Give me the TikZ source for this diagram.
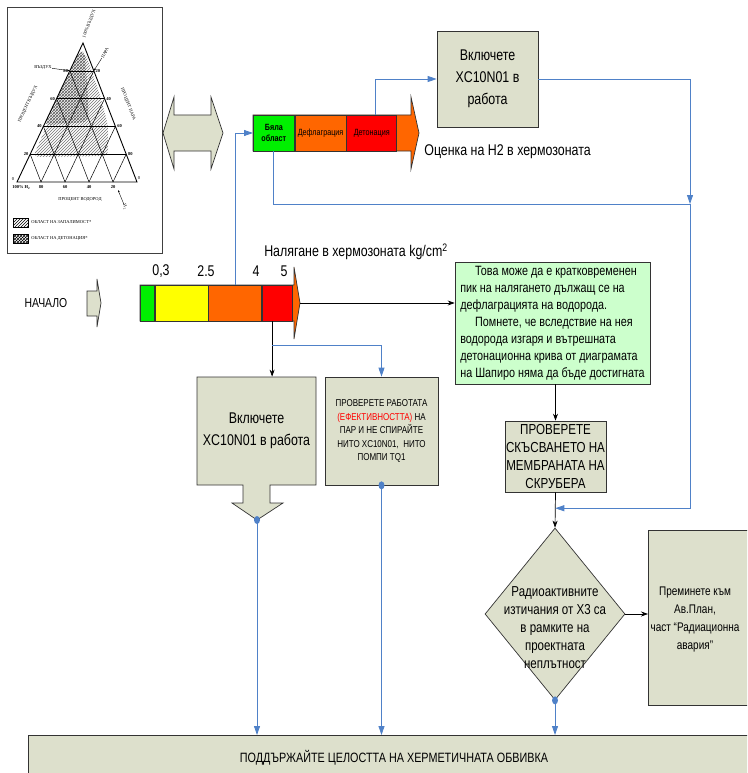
\documentclass[tikz,border=0pt]{standalone}
\usepackage{fontspec}
\setmainfont[FakeStretch=0.8]{Liberation Sans}
\newfontfamily\chartfont{Liberation Serif}
\usepackage{tikz}
\usetikzlibrary{positioning,calc,arrows.meta,shapes.geometric,patterns}

\definecolor{boxfill}{RGB}{221,224,204}
\definecolor{paleGreen}{RGB}{204,255,204}
\definecolor{barGreen}{RGB}{0,240,0}
\definecolor{barYellow}{RGB}{255,255,0}
\definecolor{barOrange}{RGB}{255,102,0}
\definecolor{barRed}{RGB}{255,0,0}
\definecolor{linkBlue}{RGB}{79,129,200}

\begin{document}
\begin{tikzpicture}[
	x=1pt, y=-1pt,
	line width=0.7pt,
	box/.style={
		draw=black!80,
		fill=boxfill,
		rectangle,
		inner sep=0pt,
		align=center,
	},
	seg/.style={
		draw=black!80,
		rectangle,
		inner sep=0pt,
		minimum height=36pt,
		anchor=west,
	},
	outline/.style={
		draw=black!80,
		fill=boxfill,
	},
	chartlbl/.style={
		inner sep=0pt,
		font=\chartfont\fontsize{4.5}{5}\selectfont,
	},
	chartarrow/.style={
		line width=0.4pt,
		-{Stealth[length=2.5pt,width=2pt]},
	},
	flow/.style={
		-{Stealth[length=7pt,width=5pt]},
	},
	bluelink/.style={
		draw=linkBlue,
		line width=0.8pt,
		-{Triangle[length=9pt,width=6pt]},
	},
	tick/.style={
		inner sep=0pt,
		font=\fontsize{15.5}{18}\selectfont,
	},
	font=\fontsize{13}{16}\selectfont,
]
\useasboundingbox (0,0) rectangle (747,773);
\clip (0,0) rectangle (747,773);

%% Shapiro diagram
\draw[black!75] (7,7) rectangle (162,253);
\coordinate (vH) at (17,182);
\coordinate (vS) at (137,182);
\coordinate (vA) at (83,43);
\path[pattern=north east lines, pattern color=black!55, rounded corners=6pt]
	(79,52) -- (85,52) -- (100,95) -- (108,125) -- (108,156) -- (33,157) -- cycle;
\path[pattern=crosshatch, pattern color=black!60, rounded corners=5pt]
	(79,52) -- (85,52) -- (88,100) -- (88,122) -- (44,125) -- cycle;
\foreach \t in {0.2,0.4,0.6,0.8}{
	\draw[line width=0.5pt] ($(vH)!\t!(vA)$) -- ($(vS)!\t!(vA)$);
	\draw[line width=0.5pt] ($(vH)!\t!(vS)$) -- ($(vA)!\t!(vS)$);
	\draw[line width=0.5pt] ($(vS)!\t!(vH)$) -- ($(vA)!\t!(vH)$);
}
\draw[line width=0.9pt] (vH) -- (vS) -- (vA) -- cycle;

\foreach \x/\v in {41/80,65/60,89/40,113/20}
	\node[chartlbl, anchor=north] (bot\v) at (\x,185) {\textbf{\v}};
\foreach \t/\v in {0.2/20,0.4/40,0.6/60,0.8/80}
	\node[chartlbl, anchor=east] (left\v) at ($(vH)!\t!(vA)+(-1.5,0)$) {\textbf{\v}};
\foreach \t/\v in {0.2/80,0.4/60,0.6/40,0.8/20}
	\node[chartlbl, anchor=west] (right\v) at ($(vS)!\t!(vA)+(1.5,0)$) {\textbf{\v}};
\node[chartlbl, anchor=north west] (fullH) at (12,185) {\textbf{100\% H\textsubscript{2}}};
\node[chartlbl, anchor=south] (zeroH) at (13,181) {0};
\node[chartlbl, anchor=south] (zeroS) at (139,180) {0};
\node[chartlbl, anchor=north] (pctH) at (80,197) {ПРОЦЕНТ ВОДОРОД};
\node[chartlbl, rotate=64.6] (pctAir) at (28,104) {ПРОЦЕНТ ВЪЗДУХ};
\node[chartlbl, rotate=-68.8] (pctSteam) at (128,104) {ПРОЦЕНТ ПАРА};
\node[chartlbl, rotate=69, anchor=west] (fullAir) at (84,38) {100\% ВЪЗДУХ};
\node[chartlbl, rotate=65] (steamTag) at (105,53) {ПАРА};
\node[chartlbl] (airTag) at (43,67) {ВЪЗДУХ};
\node[chartlbl, rotate=-70] (h2Tag) at (125,207) {H\textsubscript{2}};
\draw[chartarrow] (steamTag) -- ($(vS)!0.8!(vA)$);
\draw[chartarrow] (airTag) -- ($(vH)!0.8!(vA)$);
\draw[chartarrow] (h2Tag) -- (118,190);
\draw[pattern=north east lines, line width=0.4pt] (13,218) rectangle (28,227);
\draw[pattern=crosshatch, line width=0.4pt] (13,234) rectangle (28,243);
\node[chartlbl, anchor=west] (legFlam) at (31,222.5) {ОБЛАСТ НА ЗАПАЛИМОСТ*};
\node[chartlbl, anchor=west] (legDet) at (31,238.5) {ОБЛАСТ НА ДЕТОНАЦИЯ*};

%% link between the diagram and the H2 bar
\filldraw[outline] (163,133) -- (174,97) -- (174,115) -- (211,115) -- (211,97) -- (223,133)
	-- (211,169) -- (211,151) -- (174,151) -- (174,169) -- cycle;

%% H2 bar
\filldraw[outline, fill=barOrange] (253,115) -- (411,115) -- (411,97) -- (419,133) -- (411,169) -- (411,151) -- (253,151) -- cycle;
\node[seg, fill=barGreen, minimum width=41pt, align=center, font=\bfseries\fontsize{9}{11}\selectfont] (hWhite) at (253,133) {Бяла\\област};
\node[seg, fill=barOrange, minimum width=51pt, right=0pt of hWhite, font=\fontsize{9}{10}\selectfont] (hDefl) {Дефлаграция};
\node[seg, fill=barRed, minimum width=50pt, right=0pt of hDefl, font=\fontsize{9}{10}\selectfont] (hDet) {Детонация};
\node[tick, anchor=west] (h2Caption) at (424,152) {Оценка на H2 в хермозоната};

%% pressure bar
\node (start) at (46,303) {НАЧАЛО};
\filldraw[outline] (87,291) -- (97,291) -- (97,279) -- (101,303) -- (97,327) -- (97,316) -- (87,316) -- cycle;
\filldraw[outline, fill=barOrange] (140,285) -- (294,285) -- (294,267) -- (300,303) -- (294,339) -- (294,321) -- (140,321) -- cycle;
\node[seg, fill=barGreen, minimum width=14pt] (pGreen) at (140,303) {};
\node[seg, fill=barYellow, minimum width=53pt, right=0pt of pGreen] (pYellow) {};
\node[seg, fill=barOrange, minimum width=53pt, right=0pt of pYellow] (pOrange) {};
\node[seg, fill=barRed, minimum width=30pt, right=0pt of pOrange] (pRed) {};
\coordinate (pTip) at (300,303);
\node[tick] (t03) at (161,271) {0,3};
\node[tick] (t25) at (206,271) {2.5};
\node[tick] (t4) at (256,271) {4};
\node[tick] (t5) at (284,271) {5};
\node[tick] (pCaption) at (356,252) {Налягане в хермозоната kg/cm\textsuperscript{2}};

%% actions
\node[box, minimum width=101pt, minimum height=96pt, font=\fontsize{15.5}{22}\selectfont] (turnOn1) at (487.5,79) {Включете\\XC10N01 в\\работа};

\node[draw=black!80, fill=paleGreen, minimum width=195pt, minimum height=122pt, inner sep=2pt, align=left,
	font=\fontsize{13.5}{17}\selectfont] (note) at (552.5,323)
	{\hspace*{1.1em}Това може да е кратковременен\\пик на налягането дължащ се на\\дефлаграцията на водорода.\\
	\hspace*{1.1em}Помнете, че вследствие на нея\\водорода изгаря и вътрешната\\детонационна крива от диаграмата\\на Шапиро няма да бъде достигната};

\filldraw[outline] (197,377) -- (316,377) -- (316,485) -- (270,485) -- (270,503) -- (283,503) -- (257,520)
	-- (232,503) -- (243,503) -- (243,485) -- (197,485) -- cycle;
\node[align=center, minimum width=119pt, minimum height=108pt, font=\fontsize{15.5}{22}\selectfont] (turnOn2) at (256.5,431) {Включете\\XC10N01 в работа};
\coordinate (turnOn2tip) at (257,520);

\node[box, minimum width=113pt, minimum height=108pt, font=\fontsize{10}{13.5}\selectfont] (chkSteam) at (381.5,431)
	{ПРОВЕРЕТЕ РАБОТАТА\\\textcolor{red}{(ЕФЕКТИВНОСТТА)} НА\\ПАР И НЕ СПИРАЙТЕ\\НИТО XC10N01,\ \ НИТО\\ПОМПИ TQ1};

\node[box, minimum width=101pt, minimum height=71pt, font=\fontsize{14.5}{18}\selectfont] (scrub) at (555.5,456.5)
	{ПРОВЕРЕТЕ\\СКЪСВАНЕТО НА\\МЕМБРАНАТА НА\\СКРУБЕРА};

\node[draw=black!80, fill=boxfill, diamond, minimum width=140pt, minimum height=172pt, inner sep=0pt] (leak) at (555,614) {};
\node[align=center, font=\fontsize{14.4}{18}\selectfont] (leakText) at (555,628)
	{Радиоактивните\\изтичания от Х3 са\\в рамките на\\проектната\\неплътност};

\node[box, minimum width=120pt, minimum height=175pt, anchor=north west] (radBox) at (648,530) {};
\node[align=center, font=\fontsize{12.5}{18}\selectfont] (radText) at (695,619.5)
	{Преминете към\\Ав.План,\\част “Радиационна\\авария”};

\node[box, minimum width=780pt, minimum height=60pt, anchor=north west] (base) at (28,735) {};
\node[font=\fontsize{13.5}{16}\selectfont] (baseText) at (394,758) {ПОДДЪРЖАЙТЕ ЦЕЛОСТТА НА ХЕРМЕТИЧНАТА ОБВИВКА};

%% connectors
\draw[flow] (pTip) -- (pTip -| note.west);
\draw[flow] ([xshift=10pt]pRed.south west) -- ([xshift=10pt]pRed.south west |- turnOn2.north);
\draw[flow] (scrub.north |- note.south) -- (scrub.north);
\draw[flow] (scrub.south) -- (leak.north);
\draw[flow] (leak.east) -- (radBox.west |- leak.east);

\coordinate (split) at ($([xshift=10pt]pRed.south west)+(0,24)$);
\coordinate (rail) at (690,204);
\coordinate (merge) at ($(scrub.south)!0.45!(leak.north)$);
\draw[bluelink] (split) -| (chkSteam.north);
\draw[bluelink] ([xshift=27pt]pOrange.north west) |- (hWhite.west);
\draw[bluelink] ([xshift=29pt]hDet.north west) |- (turnOn1.west);
\draw[bluelink] (turnOn1.east) -| (rail);
\draw[bluelink] (hWhite.south) |- (rail) |- (merge);

\draw[bluelink] (turnOn2tip) -- (turnOn2tip |- base.north);
\draw[bluelink] (chkSteam.south) -- (chkSteam.south |- base.north);
\draw[bluelink] (leak.south) -- (leak.south |- base.north);
\fill[linkBlue] (turnOn2tip) ellipse (3pt and 4pt);
\fill[linkBlue] (chkSteam.south) ellipse (3pt and 4pt);
\fill[linkBlue] (leak.south) ellipse (3pt and 4pt);
\end{tikzpicture}
\end{document}
